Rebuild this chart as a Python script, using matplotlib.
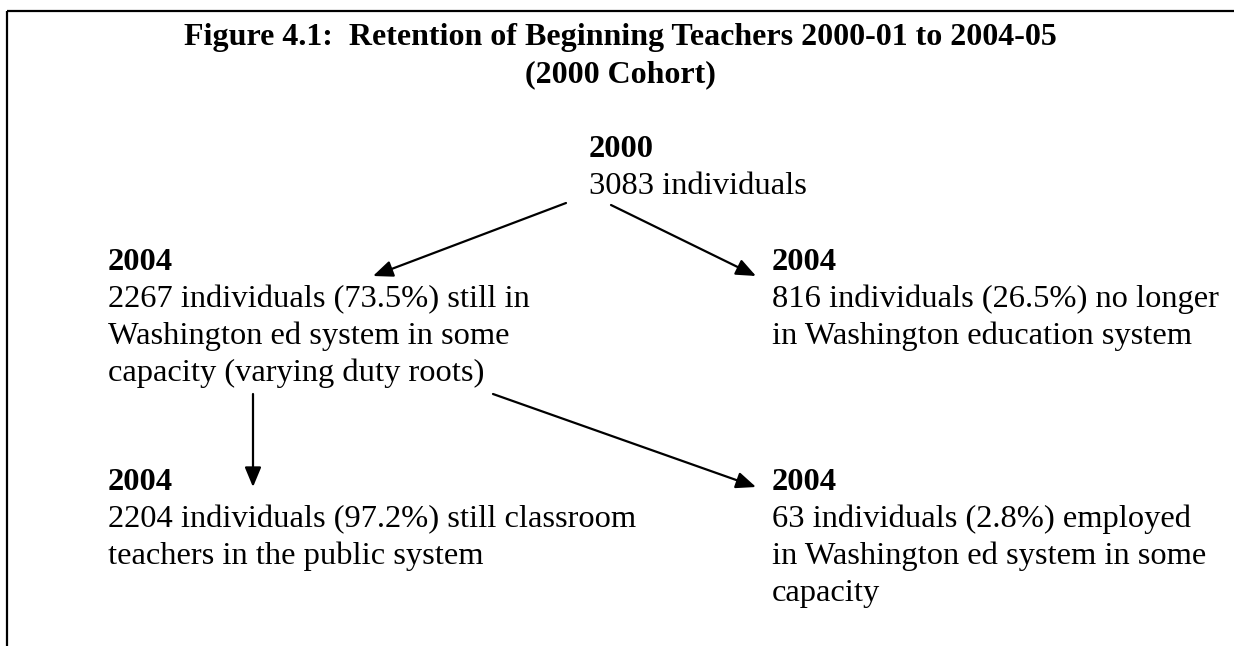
import matplotlib.pyplot as plt

plt.rcParams["font.family"] = ["Liberation Serif", "DejaVu Serif"]

title_lines = ["Figure 4.1:  Retention of Beginning Teachers 2000-01 to 2004-05",
               "(2000 Cohort)"]

# each node: bold year, then the description lines
top_year = "2000"
top_lines = ["3083 individuals"]
mid_left_year = "2004"
mid_left_lines = ["2267 individuals (73.5%) still in",
                  "Washington ed system in some",
                  "capacity (varying duty roots)"]
mid_right_year = "2004"
mid_right_lines = ["816 individuals (26.5%) no longer",
                   "in Washington education system"]
bot_left_year = "2004"
bot_left_lines = ["2204 individuals (97.2%) still classroom",
                  "teachers in the public system"]
bot_right_year = "2004"
bot_right_lines = ["63 individuals (2.8%) employed",
                   "in Washington ed system in some",
                   "capacity"]

W, H = 1234, 646
fig = plt.figure(figsize=(W / 100, H / 100), dpi=100)
ax = fig.add_axes([0, 0, 1, 1])
ax.set_xlim(0, W)
ax.set_ylim(H, 0)
ax.axis("off")

FS = 23.4
TITLE_FS = 23.0
LINE = 37

# page frame: only top and left edges are visible
ax.plot([7, W], [11, 11], color="black", lw=1.6, solid_capstyle="butt")
ax.plot([7, 7], [11, H], color="black", lw=1.6, solid_capstyle="butt")

for i, t in enumerate(title_lines):
    ax.text(620, 45 + i * LINE, t, ha="center", va="baseline", fontsize=TITLE_FS,
            fontweight="bold")


def block(x, y, year, lines):
    ax.text(x, y, year, ha="left", va="baseline", fontsize=FS, fontweight="bold")
    for i, t in enumerate(lines):
        ax.text(x, y + (i + 1) * LINE, t, ha="left", va="baseline", fontsize=FS)


block(589, 157, top_year, top_lines)
block(108, 270, mid_left_year, mid_left_lines)
block(772, 270, mid_right_year, mid_right_lines)
block(108, 490, bot_left_year, bot_left_lines)
block(772, 490, bot_right_year, bot_right_lines)


def arrow(x0, y0, x1, y1):
    ax.annotate("", xy=(x1, y1), xytext=(x0, y0),
                arrowprops=dict(arrowstyle="-|>,head_length=0.6,head_width=0.25",
                                color="black", lw=1.6, shrinkA=0, shrinkB=0,
                                mutation_scale=20))


arrow(566, 203, 373, 276)
arrow(611, 205, 756, 276)
arrow(253, 394, 253, 487)
arrow(493, 394, 756, 487)

fig.savefig("out.png", dpi=100, facecolor="white")
